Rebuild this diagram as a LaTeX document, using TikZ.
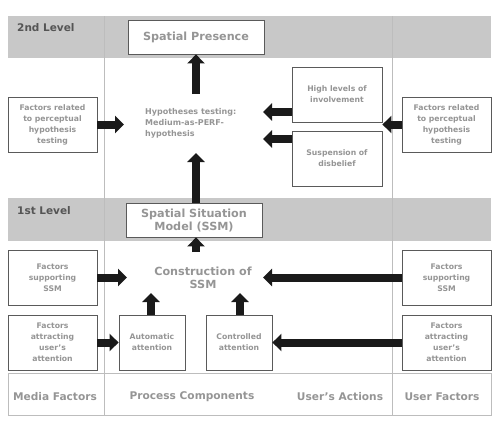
\documentclass[tikz,border=0pt]{standalone}
\usepackage{fontspec}
\setmainfont{DejaVu Sans}
\usetikzlibrary{arrows.meta}
\definecolor{bandgray}{HTML}{C8C8C8}
\definecolor{boxline}{HTML}{5A5A5A}
\definecolor{txtgray}{HTML}{959595}
\definecolor{lvlgray}{HTML}{555555}
\definecolor{divline}{HTML}{BDBDBD}
\definecolor{arrowc}{HTML}{1A1A1A}
\tikzset{
  fbox/.style={draw=boxline, line width=0.8pt, fill=white, align=center, inner sep=1pt,
    text=txtgray, font=\fontsize{7.7}{11}\selectfont\bfseries},
  bigbox/.style={fbox, font=\fontsize{11.2}{13}\selectfont\bfseries},
  blk/.style={draw=arrowc, line width=8pt, -{Triangle[width=17pt,length=9pt]}, arrowc},
  lvl/.style={anchor=west, text=lvlgray, font=\fontsize{10.5}{12}\selectfont\bfseries, inner sep=0pt},
  foot/.style={text=txtgray, font=\fontsize{10.6}{12}\selectfont\bfseries, inner sep=0pt},
  divider/.style={draw=divline, line width=0.7pt}
}
\begin{document}
\begin{tikzpicture}[x=1pt,y=-1pt]
\useasboundingbox (0,0) rectangle (500,431);
% bands
\fill[bandgray] (8,16) rectangle (491,58);
\fill[bandgray] (8,198) rectangle (491,241);
\draw[divider] (8,373) rectangle (491,415);
\draw[divider] (104,16) -- (104,415);
\draw[divider] (392,16) -- (392,415);
% level labels
\node[lvl] (l2) at (17,28) {2nd Level};
\node[lvl] (l1) at (17,211) {1st Level};
% boxes
\node[bigbox, minimum width=136pt, minimum height=34pt] (sp) at (196,37) {Spatial Presence};
\node[fbox, minimum width=89pt, minimum height=55pt] (fl1) at (52.5,124.5) {Factors related\\to perceptual\\hypothesis\\testing};
\node[anchor=west, align=left, inner sep=0pt, text=txtgray, font=\fontsize{8}{11}\selectfont\bfseries] (hyp) at (145,123.5) {Hypotheses testing:\\Medium-as-PERF-\\hypothesis};
\node[fbox, minimum width=90pt, minimum height=55pt] (inv) at (337,94.5) {High levels of\\involvement};
\node[fbox, minimum width=90pt, minimum height=55pt] (sus) at (337,158.5) {Suspension of\\disbelief};
\node[fbox, minimum width=89pt, minimum height=55pt] (fr1) at (446.5,124.5) {Factors related\\to perceptual\\hypothesis\\testing};
\node[bigbox, minimum width=136pt, minimum height=34pt] (ssm) at (194,220) {Spatial Situation\\Model (SSM)};
\node[inner sep=0pt, align=center, text=txtgray, font=\fontsize{11.2}{13}\selectfont\bfseries] (con) at (203,277.5) {Construction of\\SSM};
\node[fbox, minimum width=89pt, minimum height=55pt] (fl2) at (52.5,277.5) {Factors\\supporting\\SSM};
\node[fbox, minimum width=89pt, minimum height=55pt] (fr2) at (446.5,277.5) {Factors\\supporting\\SSM};
\node[fbox, minimum width=89pt, minimum height=55pt] (fl3) at (52.5,342.5) {Factors\\attracting\\user's\\attention};
\node[fbox, minimum width=66pt, minimum height=55pt] (aut) at (152,342.5) {Automatic\\attention};
\node[fbox, minimum width=66pt, minimum height=55pt] (ctl) at (239,342.5) {Controlled\\attention};
\node[fbox, minimum width=89pt, minimum height=55pt] (fr3) at (446.5,342.5) {Factors\\attracting\\user's\\attention};
% footer labels
\node[foot] (mf) at (55,397) {Media Factors};
\node[foot] (pc) at (192,397) {Process Components};
\node[foot] (ua) at (340,397) {User's Actions};
\node[foot] (uf) at (442,397) {User Factors};
% connector end points
\coordinate (hypbot) at (196,94);
\coordinate (hyptop) at (196,153);
\coordinate (hl) at (124,124.5);
\coordinate (invt) at (263,112);
\coordinate (sust) at (263,139);
\coordinate (cl) at (127,277.5);
\coordinate (cr) at (263,277.5);
\coordinate (cb) at (196,252);
\coordinate (autt) at (151,293);
\coordinate (ctlt) at (240,293);
% arrows
\draw[blk] (fl1.east) -- (hl);
\draw[blk] (hypbot) -- (sp.south);
\draw[blk] (ssm.north -| hyptop) -- (hyptop);
\draw[blk] (inv.west |- invt) -- (invt);
\draw[blk] (sus.west |- sust) -- (sust);
\draw[blk] (fr1.west) -- (inv.east |- fr1.west);
\draw[blk] (fl2.east) -- (cl);
\draw[blk] (fr2.west) -- (cr);
\draw[blk] (cb) -- (ssm.south -| cb);
\draw[blk] (fl3.east) -- (aut.west);
\draw[blk] (aut.north -| autt) -- (autt);
\draw[blk] (ctl.north -| ctlt) -- (ctlt);
\draw[blk] (fr3.west) -- (ctl.east);
\end{tikzpicture}
\end{document}
